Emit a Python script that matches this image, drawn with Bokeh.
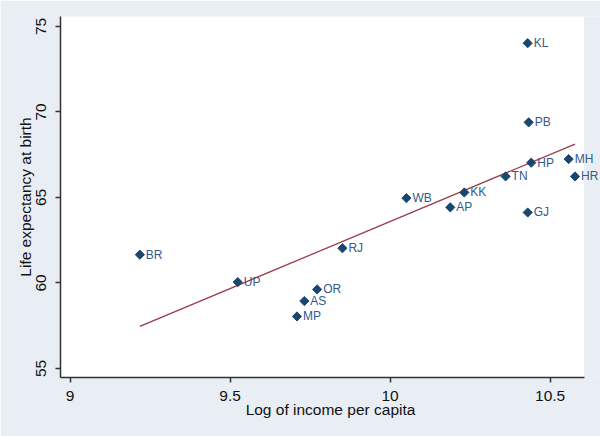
import numpy as np
from bokeh.plotting import figure
from bokeh.models import ColumnDataSource, FixedTicker, LabelSet, BoxAnnotation
from bokeh.core.properties import value
from bokeh.embed import file_html
from bokeh.resources import INLINE

states = ["KL", "PB", "HP", "MH", "HR", "TN", "KK", "WB", "AP", "GJ",
          "BR", "UP", "RJ", "OR", "AS", "MP"]
log_income = [10.430, 10.433, 10.441, 10.558, 10.578, 10.361, 10.232, 10.051,
              10.188, 10.430, 9.218, 9.524, 9.851, 9.772, 9.732, 9.709]
life_exp = [74.02, 69.39, 67.03, 67.24, 66.23, 66.23, 65.29, 64.96,
            64.42, 64.12, 61.65, 60.05, 62.03, 59.62, 58.94, 58.04]
x_ticks = [9, 9.5, 10, 10.5]
y_ticks = [55, 60, 65, 70, 75]

src = ColumnDataSource(dict(x=log_income, y=life_exp, s=states))

slope, intercept = np.polyfit(log_income, life_exp, 1)
fx = [min(log_income), max(log_income)]
fy = [intercept + slope * v for v in fx]

x_lo, x_hi = 8.97, 10.606
BG = "#e9eef5"

p = figure(width=600, height=436, output_backend="svg", toolbar_location=None,
           x_range=(x_lo, 10.6575), y_range=(54.47, 75.58),
           min_border_left=60, min_border_right=0, min_border_top=16, min_border_bottom=59)
p.background_fill_color = BG
p.border_fill_color = BG
p.outline_line_color = None

p.add_layout(BoxAnnotation(left=x_lo, right=x_hi, fill_color="white", fill_alpha=1.0,
                           line_color=None, level="underlay"))

p.line(fx, fy, line_color="#9b3a4a", line_width=1.3)
p.scatter("x", "y", source=src, marker="square", angle=np.pi / 4, size=6.5,
          fill_color="#1a476f", line_color="#1a476f")
labels = LabelSet(x="x", y="y", text="s", source=src, x_offset=6, text_baseline="middle",
                  text_font_size=value("12px"), text_color=value("#34598a"),
                  text_font=value("Liberation Sans"))
p.add_layout(labels)

for ax in (p.xaxis, p.yaxis):
    ax.axis_line_color = "#333333"
    ax.axis_line_width = 1.5
    ax.major_tick_line_color = "#333333"
    ax.major_tick_line_width = 1.5
    ax.major_tick_out = 5
    ax.major_tick_in = 0
    ax.minor_tick_line_color = None
    ax.major_label_text_font = "Liberation Sans"
    ax.major_label_text_font_size = "15.5px"
    ax.major_label_text_color = "#111111"
    ax.axis_label_text_font = "Liberation Sans"
    ax.axis_label_text_font_size = "15.5px"
    ax.axis_label_text_font_style = "normal"
    ax.axis_label_text_color = "#111111"

p.xaxis.bounds = (x_lo, x_hi)
p.xaxis.ticker = FixedTicker(ticks=x_ticks)
p.yaxis.ticker = FixedTicker(ticks=y_ticks)
p.xaxis.axis_label = "Log of income per capita"
p.yaxis.axis_label = "Life expectancy at birth"
p.yaxis.major_label_orientation = "vertical"
p.xaxis.major_label_standoff = 8
p.xaxis.axis_label_standoff = -3
p.yaxis.major_label_standoff = 9
p.yaxis.axis_label_standoff = 0

p.xgrid.grid_line_color = None
p.ygrid.grid_line_color = "#eef2f8"
p.ygrid.grid_line_width = 1.5
p.ygrid.cross_bounds = (x_lo, x_hi)

open("out.html", "w").write(file_html(p, INLINE))
